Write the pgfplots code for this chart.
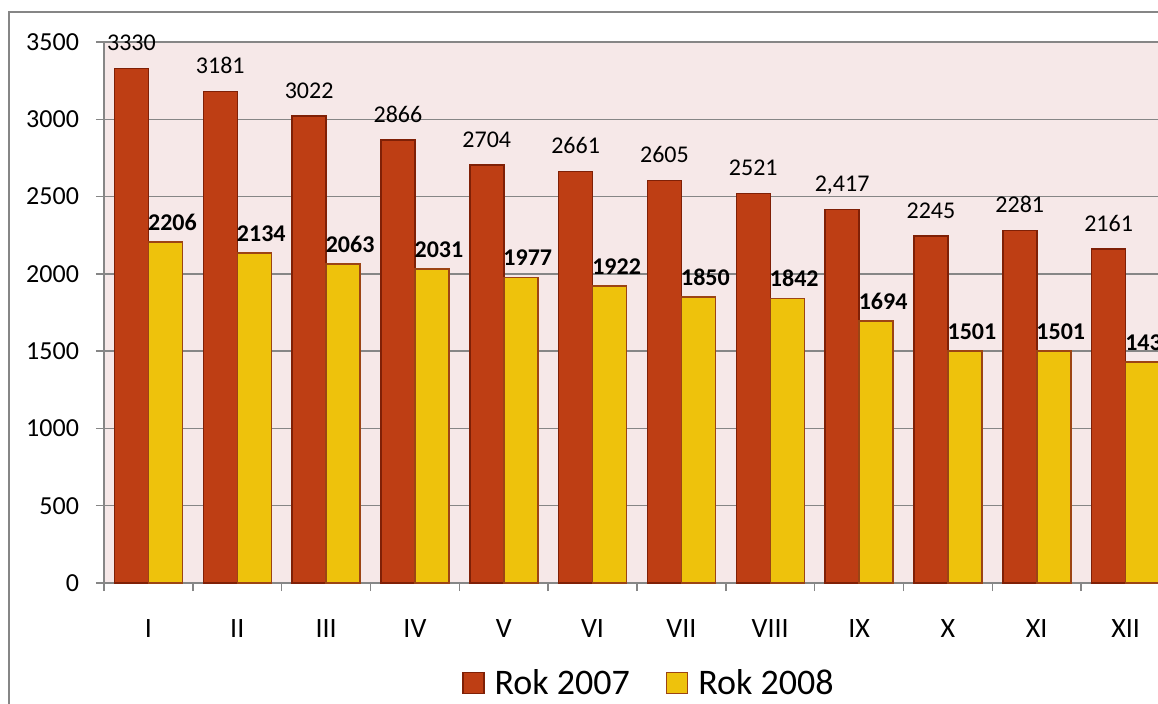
\documentclass[border=0pt]{standalone}
\usepackage{pgfplots}
\usepackage{pgfplotstable}
\pgfplotsset{compat=1.18}
\usepackage{fontspec}
\setmainfont{Carlito}

\definecolor{redbar}{HTML}{BE3E14}
\definecolor{rededge}{HTML}{7F2006}
\definecolor{yelbar}{HTML}{EEC20C}
\definecolor{yeledge}{HTML}{9C4414}
\definecolor{plotbg}{HTML}{F6E8E8}
\definecolor{gridgray}{HTML}{868686}

% 2007 (label column holds the text shown above each bar)
\pgfplotstableread{
x y lab
0 3330 3330
1 3181 3181
2 3022 3022
3 2866 2866
4 2704 2704
5 2661 2661
6 2605 2605
7 2521 2521
8 2417 2,417
9 2245 2245
10 2281 2281
11 2161 2161
}\tA

% 2008
\pgfplotstableread{
x y lab
0 2206 2206
1 2134 2134
2 2063 2063
3 2031 2031
4 1977 1977
5 1922 1922
6 1850 1850
7 1842 1842
8 1694 1694
9 1501 1501
10 1501 1501
11 1430 1430
}\tB

\begin{document}
\begin{tikzpicture}
\useasboundingbox (0,0) rectangle (579pt,351.5pt);
\clip (0,0) rectangle (579pt,351.5pt);
\draw[gridgray, line width=1pt] (4.5pt,-10pt) -- (4.5pt,345.5pt) -- (600pt,345.5pt);
\begin{axis}[
  at={(52pt,60pt)}, anchor=south west,
  scale only axis, width=533pt, height=270.5pt,
  ybar=0pt, bar width=17pt,
  xmin=-0.5, xmax=11.5, ymin=0, ymax=3500,
  ytick={0,500,...,3500},
  xtick={-0.5,0.5,...,11.5}, xticklabels={},
  extra x ticks={0,1,...,11},
  extra x tick labels={I,II,III,IV,V,VI,VII,VIII,IX,X,XI,XII},
  extra x tick style={major tick length=0pt, grid=none},
  xtick pos=bottom, ytick pos=left,
  tick align=outside, major tick length=4pt,
  ymajorgrids, grid style={gridgray, line width=0.75pt},
  axis line style={gridgray, line width=0.75pt},
  tick style={gridgray, line width=0.75pt},
  axis background/.style={fill=plotbg},
  scaled y ticks=false,
  /pgf/number format/1000 sep={},
  /pgf/number format/assume math mode=true,
  tick label style={font=\fontsize{13}{15}\selectfont, black},
  yticklabel style={xshift=-5pt},
  xticklabel style={yshift=-14.5pt, font=\fontsize{14}{16}\selectfont},
  point meta=explicit symbolic,
  nodes near coords,
  legend style={at={(0.512,-0.185)}, anchor=center, draw=none, fill=none,
    legend columns=2, font=\fontsize{18}{21}\selectfont,
    /tikz/every odd column/.append style={column sep=3pt},
    /tikz/every even column/.append style={column sep=16pt}},
]
\addplot[fill=redbar, draw=rededge, line width=0.75pt,
  legend image code/.code={\draw[fill=redbar, draw=rededge, line width=0.75pt] (0pt,-5.25pt) rectangle (10.5pt,5.25pt);},
  every node near coord/.append style={font=\fontsize{12}{14}\selectfont, black, inner sep=0pt, text depth=0pt, yshift=8.5pt}]
  table[x=x, y=y, meta=lab] {\tA};
\addlegendentry{Rok 2007}
\addplot[fill=yelbar, draw=yeledge, line width=0.75pt,
  legend image code/.code={\draw[fill=yelbar, draw=yeledge, line width=0.75pt] (0pt,-5.25pt) rectangle (10.5pt,5.25pt);},
  every node near coord/.append style={font=\fontsize{12}{14}\selectfont\bfseries, black, inner sep=0pt, text depth=0pt, yshift=5.5pt, xshift=3.5pt}]
  table[x=x, y=y, meta=lab] {\tB};
\addlegendentry{Rok 2008}
\end{axis}
\end{tikzpicture}
\end{document}
